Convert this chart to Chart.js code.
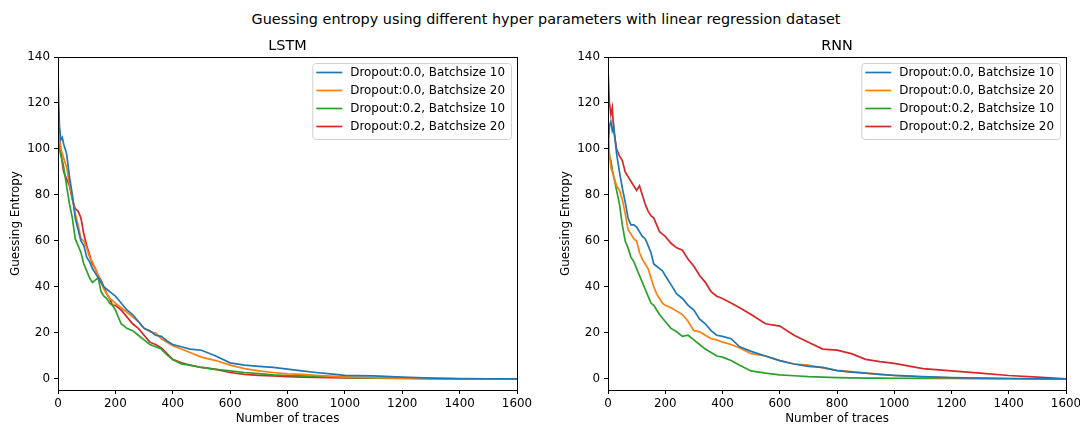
<!DOCTYPE html>
<html>
<head>
<meta charset="utf-8">
<script src="https://cdn.jsdelivr.net/npm/chart.js@4.4.1/dist/chart.umd.min.js"></script>
<style>
  body { margin: 0; background: #fff; width: 1080px; height: 426px; position: relative; overflow: hidden; font-family: "DejaVu Sans", sans-serif; }
  #suptitle { position: absolute; top: 11px; left: 0; width: 1092px; text-align: center; font-size: 14.4px; color: #000; }
  .box { position: absolute; top: 0; width: 540px; height: 426px; }
</style>
</head>
<body>
<div id="suptitle">Guessing entropy using different hyper parameters with linear regression dataset</div>
<div class="box" style="left:0"><canvas id="lstmChart" width="540" height="426"></canvas></div>
<div class="box" style="left:540px"><canvas id="rnnChart" width="540" height="426"></canvas></div>
<script>
// number of traces (x values shared by every curve)
const traces = [0, 5, 10, 15, 20, 30, 40, 50, 60, 70, 80, 90, 100, 110, 120, 130, 140, 150, 160, 170, 180, 190, 200,
  220, 240, 260, 280, 300, 320, 340, 360, 380, 400, 430, 460, 500, 550, 600, 650, 700, 750, 800, 850, 900, 950, 1000,
  1100, 1200, 1300, 1400, 1500, 1600];

const labels = ['Dropout:0.0, Batchsize 10', 'Dropout:0.0, Batchsize 20', 'Dropout:0.2, Batchsize 10', 'Dropout:0.2, Batchsize 20'];
const colors = ['#1f77b4', '#ff7f0e', '#2ca02c', '#d62728'];

const xTicks = [0, 200, 400, 600, 800, 1000, 1200, 1400, 1600];
const yTicks = [0, 20, 40, 60, 80, 100, 120, 140];

// LSTM
const lstmD0B10 = [131, 110, 104, 105, 102, 98, 88, 80, 70, 65, 60, 58, 53, 51, 48, 46, 44, 42, 40, 39, 38, 37, 36,
  33, 30, 28, 25, 22, 21, 19, 18.5, 16.5, 15, 14, 13, 12.5, 10, 7, 6, 5.5, 5, 4.3, 3.5, 2.8, 2.2, 1.6,
  1.3, 0.8, 0.4, 0.2, 0.1, 0.05];
const lstmD0B20 = [112, 105, 100, 98, 96, 92, 85, 79, 72, 67, 61, 60, 57, 53, 51, 48, 45, 42, 39, 37, 35, 34, 33,
  31, 29, 27, 25, 22, 20.5, 20, 17.5, 16, 14.5, 13, 11.5, 9.5, 8, 6, 4.5, 3.5, 2.8, 2.2, 2, 1.6, 1.2, 0.9,
  0.6, 0.3, 0.2, 0.1, 0.05, 0];
const lstmD2B10 = [118, 100, 97, 95, 92, 84, 76, 70, 61, 58, 55, 50, 47, 44, 42, 43, 44, 38, 36, 35, 33, 32, 30,
  24, 22, 21, 19, 17, 15, 14, 13, 10.5, 8.5, 6.5, 6, 5, 4.2, 3.5, 2.8, 2.3, 1.8, 1.5, 1.3, 1.1, 0.9, 0.7,
  0.5, 0.3, 0.2, 0.1, 0.05, 0];
const lstmD2B20 = [100, 104, 99, 94, 90, 87, 84, 78, 74, 73, 70, 63, 58, 54, 50, 48, 45, 43, 40, 37, 35, 32, 32,
  30, 27, 24, 22, 19, 16, 15, 13.5, 11, 8.5, 7, 6, 5, 4.2, 2.8, 2, 1.6, 1.3, 1, 0.8, 0.7, 0.6, 0.5,
  0.4, 0.2, 0.1, 0.05, 0, 0];

// RNN
const rnnD0B10 = [100, 110, 112, 108, 110, 98, 90, 83, 77, 70, 67, 67, 66, 64, 62, 61, 58, 55, 50, 49, 48, 47, 45,
  41, 37, 35, 32, 30, 26, 24, 21, 19, 18.5, 17.5, 14, 12, 10, 8, 6.5, 5.5, 5, 3.6, 3, 2.5, 2, 1.6,
  1, 0.6, 0.4, 0.2, 0.1, 0];
const rnnD0B20 = [105, 98, 92, 90, 88, 84, 82, 78, 72, 65, 63, 61, 60, 55, 52, 50, 48, 44, 40, 37, 35, 33, 32,
  31, 29.5, 28, 25, 21, 20.5, 19, 17.5, 17, 16, 15, 13.5, 11, 10, 8, 6.5, 6, 4.8, 3.7, 3.2, 2.5, 2, 1.5,
  0.8, 0.5, 0.3, 0.2, 0.1, 0];
const rnnD2B10 = [105, 97, 95, 91, 88, 82, 76, 67, 60, 57, 53, 51, 48, 45, 42, 39, 36, 33, 32, 30, 28, 26.5, 25,
  22, 20.5, 18.5, 19, 17, 15, 13, 11.5, 10, 9.5, 8, 6, 3.5, 2.5, 1.8, 1.4, 1, 0.8, 0.6, 0.5, 0.4, 0.35, 0.3,
  0.25, 0.2, 0.15, 0.1, 0.05, 0];
const rnnD2B20 = [135, 120, 115, 118, 108, 100, 97, 95, 90, 88, 86, 84, 82, 84, 80, 76, 73, 71, 70, 67, 64, 63, 62,
  59, 57, 56, 52, 49, 45, 42, 38, 36, 35, 33, 31, 28, 24, 23, 19, 16, 13, 12.5, 11, 8.5, 7.5, 6.8,
  4.5, 3.5, 2.5, 1.5, 0.8, 0];

const FONT = '"DejaVu Sans", sans-serif';
const SMALL = 11.9;

// frame, subplot title and legend box drawn like matplotlib
const matplotlibLook = {
  id: 'matplotlibLook',
  afterDatasetsDraw(chart, args, opts) {
    const a = chart.chartArea;
    const ctx = chart.ctx;
    ctx.save();

    // full box around the axes
    ctx.strokeStyle = '#000';
    ctx.lineWidth = 1;
    ctx.strokeRect(a.left + 0.5, a.top + 0.5, a.right - a.left, a.bottom - a.top);

    // subplot title
    ctx.fillStyle = '#000';
    ctx.font = '14.4px ' + FONT;
    ctx.textAlign = 'center';
    ctx.textBaseline = 'middle';
    ctx.fillText(opts.title, (a.left + a.right) / 2, a.top - 11);

    // legend
    ctx.font = SMALL + 'px ' + FONT;
    const textW = Math.max(...chart.data.datasets.map(d => ctx.measureText(d.label).width));
    const w = 38 + textW + 6;
    const h = 76;
    const x0 = a.right - 6 - w;
    const y0 = a.top + 6;
    ctx.beginPath();
    ctx.roundRect(x0 + 0.5, y0 + 0.5, w, h, 3);
    ctx.fillStyle = 'rgba(255,255,255,0.8)';
    ctx.fill();
    ctx.strokeStyle = '#d0d0d0';
    ctx.stroke();

    ctx.textAlign = 'left';
    chart.data.datasets.forEach((d, i) => {
      const cy = y0 + 9.5 + i * 18;
      ctx.strokeStyle = d.borderColor;
      ctx.lineWidth = 1.7;
      ctx.beginPath();
      ctx.moveTo(x0 + 4, cy);
      ctx.lineTo(x0 + 30, cy);
      ctx.stroke();
      ctx.fillStyle = '#000';
      ctx.fillText(d.label, x0 + 38, cy + 0.5);
    });
    ctx.restore();
  }
};

function buildChart(canvasId, title, series, padLeft, padRight) {
  const ctx = document.getElementById(canvasId).getContext('2d');
  return new Chart(ctx, {
    type: 'line',
    data: {
      datasets: series.map((ys, i) => ({
        label: labels[i],
        data: traces.map((x, j) => ({ x: x, y: ys[j] })),
        borderColor: colors[i],
        borderWidth: 1.7,
        pointRadius: 0,
        tension: 0,
        fill: false
      }))
    },
    options: {
      responsive: false,
      animation: false,
      devicePixelRatio: 1,
      layout: { padding: { left: padLeft, right: padRight, top: 57, bottom: 0 } },
      plugins: {
        legend: { display: false },
        tooltip: { enabled: false },
        matplotlibLook: { title: title }
      },
      scales: {
        x: {
          type: 'linear',
          min: 0,
          max: 1600,
          afterFit: s => { s.height = 36; s.paddingLeft = 0; s.paddingRight = 0; },
          afterBuildTicks: s => { s.ticks = xTicks.map(v => ({ value: v })); },
          grid: { drawOnChartArea: false, drawTicks: true, tickLength: 4, color: '#000' },
          border: { color: '#000' },
          ticks: { color: '#000', font: { family: FONT, size: SMALL }, padding: 3, maxRotation: 0, callback: v => String(v) },
          title: { display: true, text: 'Number of traces', color: '#000', font: { family: FONT, size: SMALL }, padding: { top: 0, bottom: 0 } }
        },
        y: {
          min: -4.8,
          max: 140,
          afterFit: s => { s.width = 58; s.paddingTop = 0; s.paddingBottom = 0; },
          afterBuildTicks: s => { s.ticks = yTicks.map(v => ({ value: v })); },
          grid: { drawOnChartArea: false, drawTicks: true, tickLength: 4, color: '#000' },
          border: { color: '#000' },
          ticks: { color: '#000', font: { family: FONT, size: SMALL }, padding: 4, callback: v => String(v) },
          title: { display: true, text: 'Guessing Entropy', color: '#000', font: { family: FONT, size: SMALL }, padding: { top: 9, bottom: 0 } }
        }
      }
    },
    plugins: [matplotlibLook]
  });
}

buildChart('lstmChart', 'LSTM', [lstmD0B10, lstmD0B20, lstmD2B10, lstmD2B20], 0, 23);
buildChart('rnnChart', 'RNN', [rnnD0B10, rnnD0B20, rnnD2B10, rnnD2B20], 10, 14);
</script>
</body>
</html>
